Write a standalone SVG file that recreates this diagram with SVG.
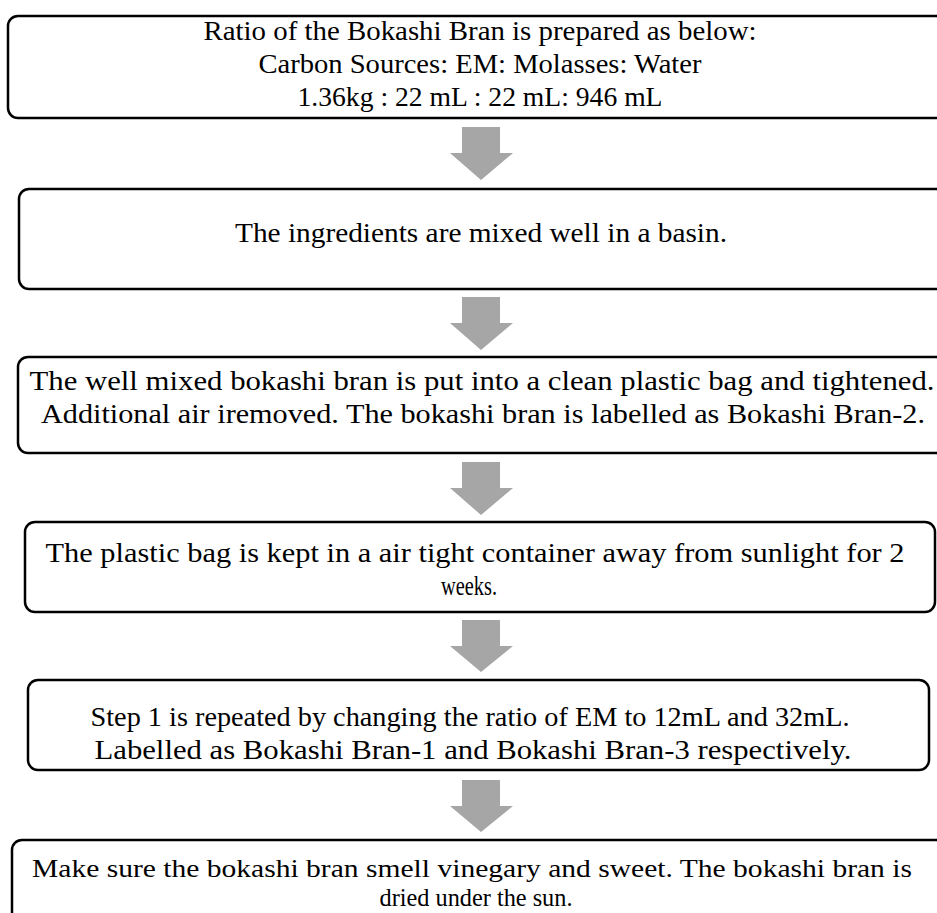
<svg xmlns="http://www.w3.org/2000/svg" width="937" height="913" viewBox="0 0 937 913">
<style>
.box{fill:#fff;stroke:#000;stroke-width:2.5}
.t{font-family:"Liberation Serif","DejaVu Serif",serif;font-size:28px;fill:#000;text-anchor:middle}
.s{font-size:25px}
.arr{fill:#a6a6a6}
</style>
<rect width="937" height="913" fill="#fff"/>
<g id="connectors">
<polygon class="arr" points="462,127 500,127 500,153 513,153 481,180 450,153 462,153"/>
<polygon class="arr" points="462,297 500,297 500,323 513,323 481,350 450,323 462,323"/>
<polygon class="arr" points="462,462 500,462 500,488 513,488 481,515 450,488 462,488"/>
<polygon class="arr" points="462,620 500,620 500,646 513,646 481,672 450,646 462,646"/>
<polygon class="arr" points="462,780 500,780 500,806 513,806 481,832 450,806 462,806"/>
</g>
<g id="n1">
<rect class="box" x="8" y="16" width="960" height="102" rx="10"/>
<text class="t" x="480" y="40" textLength="553" lengthAdjust="spacingAndGlyphs">Ratio of the Bokashi Bran is prepared as below:</text>
<text class="t" x="480" y="73" textLength="443" lengthAdjust="spacingAndGlyphs">Carbon Sources: EM: Molasses: Water</text>
<text class="t" x="480" y="106" textLength="365" lengthAdjust="spacingAndGlyphs">1.36kg : 22 mL : 22 mL: 946 mL</text>
</g>
<g id="n2">
<rect class="box" x="19" y="189" width="960" height="100" rx="10"/>
<text class="t" x="481" y="242" textLength="492" lengthAdjust="spacingAndGlyphs">The ingredients are mixed well in a basin.</text>
</g>
<g id="n3">
<rect class="box" x="18" y="357" width="960" height="96" rx="10"/>
<text class="t" x="482" y="390" textLength="905" lengthAdjust="spacingAndGlyphs">The well mixed bokashi bran is put into a clean plastic bag and tightened.</text>
<text class="t" x="483" y="423" textLength="884" lengthAdjust="spacingAndGlyphs">Additional air iremoved. The bokashi bran is labelled as Bokashi Bran-2.</text>
</g>
<g id="n4">
<rect class="box" x="25" y="522" width="910" height="90" rx="10"/>
<text class="t" x="475" y="562" textLength="859" lengthAdjust="spacingAndGlyphs">The plastic bag is kept in a air tight container away from sunlight for 2</text>
<text class="t" x="469" y="595" textLength="56" lengthAdjust="spacingAndGlyphs">weeks.</text>
</g>
<g id="n5">
<rect class="box" x="28" y="680" width="901" height="90" rx="10"/>
<text class="t" x="470" y="726" textLength="759" lengthAdjust="spacingAndGlyphs">Step 1 is repeated by changing the ratio of EM to 12mL and 32mL.</text>
<text class="t" x="473" y="759" textLength="757" lengthAdjust="spacingAndGlyphs">Labelled as Bokashi Bran-1 and Bokashi Bran-3 respectively.</text>
</g>
<g id="n6">
<rect class="box" x="12" y="840" width="960" height="120" rx="10"/>
<text class="t s" x="472" y="877" textLength="880" lengthAdjust="spacingAndGlyphs">Make sure the bokashi bran smell vinegary and sweet. The bokashi bran is</text>
<text class="t s" x="476" y="906" textLength="193" lengthAdjust="spacingAndGlyphs">dried under the sun.</text>
</g>
</svg>
